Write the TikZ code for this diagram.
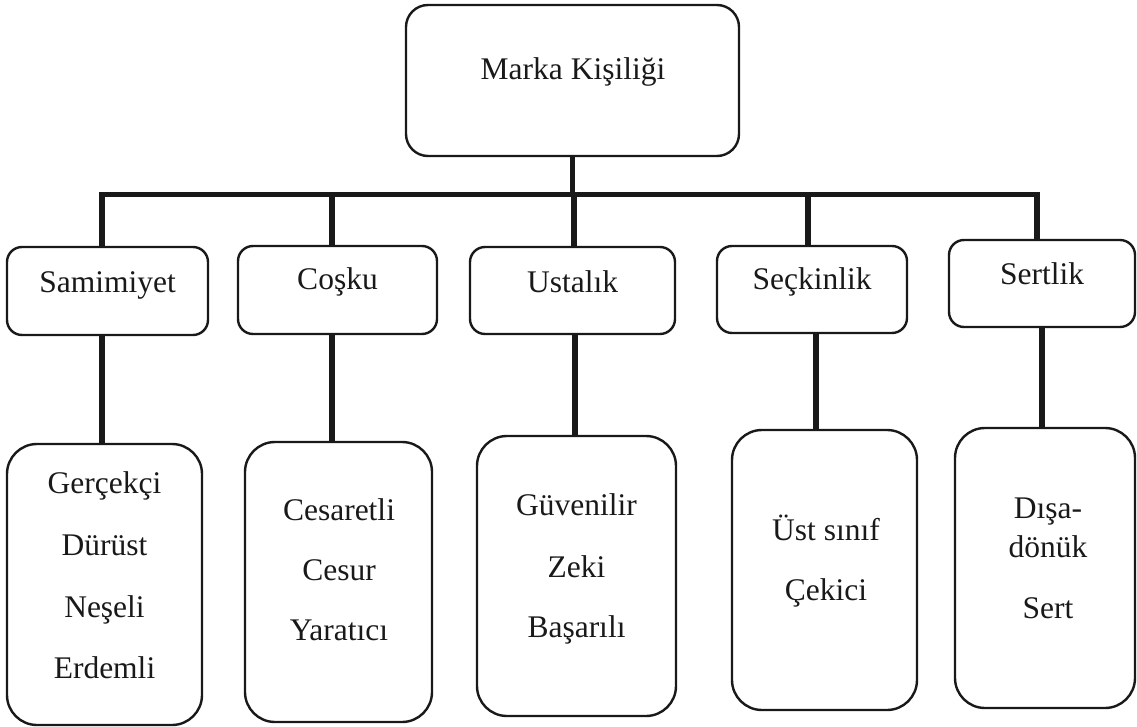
\documentclass[tikz,border=0pt]{standalone}
\usepackage{fontspec}
\setmainfont{Liberation Serif}
\usetikzlibrary{calc}

\tikzset{
  box/.style={draw=black!90, line width=2.4pt, rectangle, inner sep=0pt},
  topbox/.style={box, rounded corners=22pt},
  midbox/.style={box, rounded corners=15pt},
  leafbox/.style={box, rounded corners=30pt},
  lbl/.style={anchor=base, inner sep=0pt, font=\fontsize{31.5}{36}\selectfont, text=black!90},
  conn/.style={draw=black!90, line width=5.5pt, line join=miter, line cap=butt},
}

\begin{document}
\begin{tikzpicture}[x=1pt, y=-1pt]
\useasboundingbox (0,0) rectangle (1137,727);

% root
\node[topbox, minimum width=333pt, minimum height=151pt] (root) at (572.5,80.5) {};
\node[lbl] (rootT) at (573,80) {Marka Kişiliği};

% five dimensions
\node[midbox, minimum width=201pt, minimum height=88pt] (s1) at (107.5,291) {};
\node[midbox, minimum width=199pt, minimum height=88pt] (s2) at (337.5,290) {};
\node[midbox, minimum width=205pt, minimum height=87pt] (s3) at (572.5,290.5) {};
\node[midbox, minimum width=190pt, minimum height=87pt] (s4) at (812,289.5) {};
\node[midbox, minimum width=186pt, minimum height=87pt] (s5) at (1042,283.5) {};

\node[lbl] (s1T) at (107.5,292) {Samimiyet};
\node[lbl] (s2T) at (337.5,290) {Coşku};
\node[lbl] (s3T) at (572.5,292) {Ustalık};
\node[lbl] (s4T) at (812,290) {Seçkinlik};
\node[lbl] (s5T) at (1042,284) {Sertlik};

% facets
\node[leafbox, minimum width=195pt, minimum height=281pt] (l1) at (104.5,584.5) {};
\node[leafbox, minimum width=187pt, minimum height=280pt] (l2) at (338.5,582) {};
\node[leafbox, minimum width=199pt, minimum height=280pt] (l3) at (576.5,576) {};
\node[leafbox, minimum width=185pt, minimum height=280pt] (l4) at (824.5,570) {};
\node[leafbox, minimum width=180pt, minimum height=280pt] (l5) at (1045,568) {};

\node[lbl] (l1a) at (104.5,493) {Gerçekçi};
\node[lbl] (l1b) at (104.5,555) {Dürüst};
\node[lbl] (l1c) at (104.5,617) {Neşeli};
\node[lbl] (l1d) at (104.5,678) {Erdemli};

\node[lbl] (l2a) at (339,520) {Cesaretli};
\node[lbl] (l2b) at (339,580) {Cesur};
\node[lbl] (l2c) at (339,640) {Yaratıcı};

\node[lbl] (l3a) at (576.5,515) {Güvenilir};
\node[lbl] (l3b) at (576.5,577) {Zeki};
\node[lbl] (l3c) at (576.5,637) {Başarılı};

\node[lbl] (l4a) at (826,540) {Üst sınıf};
\node[lbl] (l4b) at (826,600) {Çekici};

\node[lbl] (l5a) at (1048,518) {Dışa-};
\node[lbl] (l5b) at (1048,557) {dönük};
\node[lbl] (l5c) at (1048,618) {Sert};

% bus from the root to the five dimensions
\coordinate (busL) at (102,194.5);
\coordinate (busR) at (1037,194.5);
\draw[conn] (root.south) -- (root.south |- busL);
\draw[conn] (busL |- s1.north) -- (busL) -- (busR) -- (busR |- s5.north);
\draw[conn] (s2.north -| 332,0) -- (332,194.5);
\draw[conn] (s3.north -| 574,0) -- (574,194.5);
\draw[conn] (s4.north -| 808,0) -- (808,194.5);

% dimension to facet links
\draw[conn] (l1.north -| 102,0) -- (s1.south -| 102,0);
\draw[conn] (l2.north -| 332,0) -- (s2.south -| 332,0);
\draw[conn] (l3.north -| 575,0) -- (s3.south -| 575,0);
\draw[conn] (l4.north -| 816,0) -- (s4.south -| 816,0);
\draw[conn] (l5.north -| 1042,0) -- (s5.south -| 1042,0);
\end{tikzpicture}
\end{document}
